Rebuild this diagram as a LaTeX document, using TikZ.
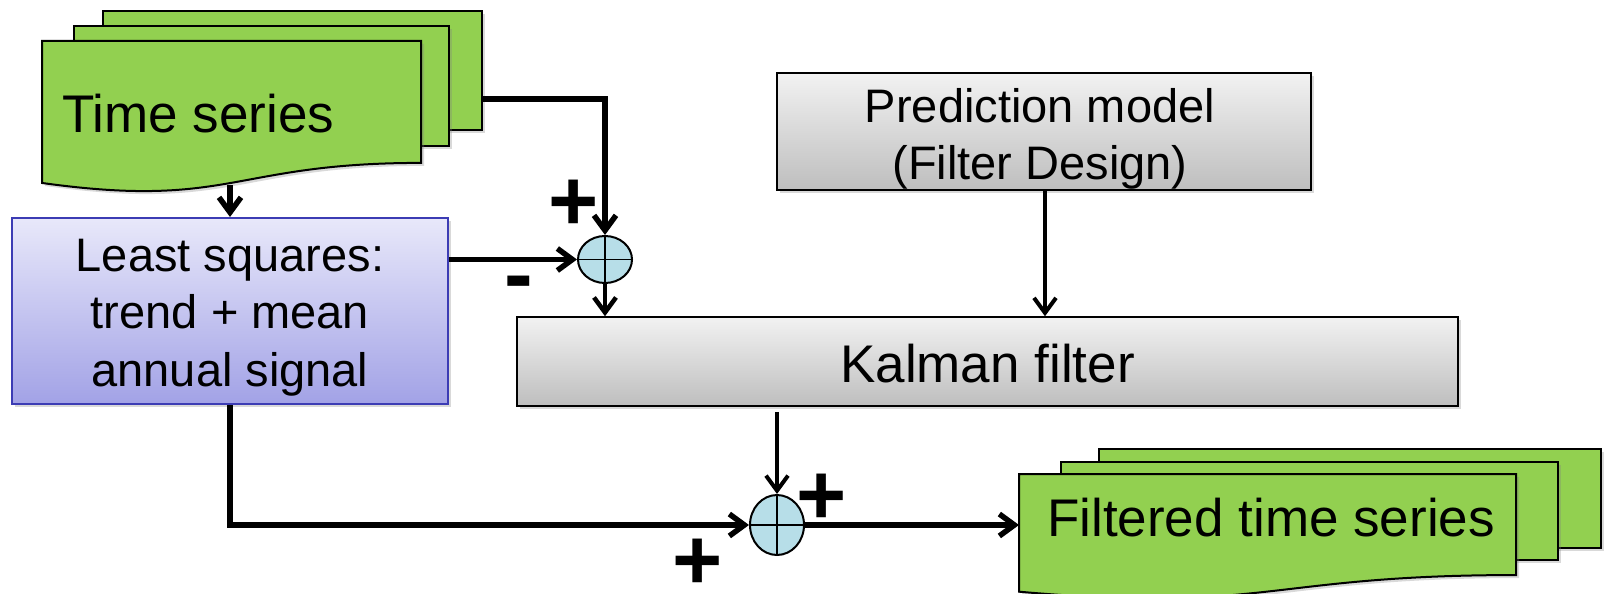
\documentclass[tikz,border=0pt]{standalone}
\usepackage{fontspec}
\setmainfont{Liberation Sans}
\usetikzlibrary{arrows.meta,shapes.geometric,shadows,calc}
\definecolor{pgreen}{HTML}{92D050}
\definecolor{gtop}{HTML}{F2F2F2}
\definecolor{gbot}{HTML}{BEBEBE}
\definecolor{lstop}{HTML}{E8E8FA}
\definecolor{lsbot}{HTML}{A2A2E6}
\definecolor{lsborder}{HTML}{3C3CB4}
\definecolor{sumfill}{HTML}{B7DEE8}
\newcommand\docpage[4]{% left, top, right, height
  \pgfmathsetmacro\dR{#2+0.802*#4}%
  \pgfmathsetmacro\dL{#2+0.934*#4}%
  \pgfmathsetmacro\dC{#2+1.1075*#4}%
  \pgfmathsetmacro\dM{(#1+#3)/2}%
  \filldraw[docst] (#1,#2) -- (#3,#2) -- (#3,\dR) .. controls (\dM,\dR) and (\dM,\dC) .. (#1,\dL) -- cycle;}
\begin{document}
\begin{tikzpicture}[x=1pt,y=-1pt,
  shd/.style={drop shadow={shadow xshift=3pt,shadow yshift=-3pt,opacity=0.3}},
  docst/.style={fill=pgreen,draw=black,line width=2pt,shd},
  graybox/.style={rectangle,draw=black,line width=1.5pt,top color=gtop,bottom color=gbot,inner sep=0pt,shd},
  lsbox/.style={rectangle,draw=lsborder,line width=2pt,top color=lstop,bottom color=lsbot,inner sep=0pt,shd},
  sumc/.style={ellipse,draw=black,line width=2pt,fill=sumfill,inner sep=0pt},
  cross/.style={line width=1.5pt},
  tip/.style={-{Straight Barb[length=15pt,width=22pt]}},
  conn/.style={line width=5.5pt,tip},
  connm/.style={line width=4.5pt,tip},
  connt/.style={line width=4pt,tip},
  big/.style={inner sep=0pt,font=\fontsize{53}{62}\selectfont},
  mid/.style={inner sep=0pt,font=\fontsize{47}{55}\selectfont},
  sign/.style={inner sep=0pt,font=\fontsize{86}{90}\selectfont\bfseries},
]
\useasboundingbox (0,0) rectangle (1606,594);

% Time series stack
\filldraw[docst] (103,11) rectangle (482,130);
\filldraw[docst] (74,26) rectangle (449,146);
\docpage{42}{41}{421}{152}
\node[big,anchor=base west] (tstxt) at (62,132) {Time series};
\coordinate (tsout) at (482,99);
\coordinate (tsbot) at (230,185);

% Filtered time series stack
\filldraw[docst] (1099,449) rectangle (1601,548);
\filldraw[docst] (1061,462) rectangle (1558,560);
\docpage{1019}{474}{1516}{126}
\node[big,anchor=base west] (fttxt) at (1047,536) {Filtered time series};
\coordinate (ftin) at (1019,525);

% Least squares box
\node[lsbox,minimum width=436pt,minimum height=186pt] (ls) at (230,311) {};
\node[mid,anchor=base] (ls1) at (230,271) {Least squares:};
\node[mid,anchor=base] (ls2) at (230,328.5) {trend + mean};
\node[mid,anchor=base] (ls3) at (230,386) {annual signal};

% Prediction model box
\node[graybox,minimum width=534pt,minimum height=117pt] (pred) at (1044,131.5) {};
\node[mid,anchor=base] (pr1) at (1040,122) {Prediction model};
\node[mid,anchor=base] (pr2) at (1040,179) {(Filter Design)};

% Kalman filter box
\node[graybox,minimum width=941pt,minimum height=89pt] (kal) at (987.5,361.5) {};
\node[big,anchor=base] (kaltxt) at (987.5,382) {Kalman filter};

% summing junctions
\node[sumc,minimum width=54pt,minimum height=47pt] (s1) at (605,259.5) {};
\draw[cross] (s1.north) -- (s1.south) (s1.west) -- (s1.east);
\node[sumc,minimum width=54pt,minimum height=60pt] (s2) at (777,525) {};
\draw[cross] (s2.north) -- (s2.south) (s2.west) -- (s2.east);

% connectors
\draw[conn] (tsout) -| (s1.north);
\draw[conn] (tsbot) -- (ls.north);
\draw[conn] (s1.west -| ls.east) -- (s1.west);
\draw[connm] (s1.south) -- (s1.south |- kal.north);
\draw[connt] (pred.south -| 1045,0) -- (kal.north -| 1045,0);
\draw[connt,shorten <=5pt] (s2.north |- kal.south) -- (s2.north);
\draw[conn] (ls.south) |- (s2.west);
\draw[conn] (s2.east) -- (ftin);

% signs
\node[sign,anchor=base] (p1) at (574,230) {+};
\node[sign,anchor=base] (m1) at (519,303) {-};
\node[sign,anchor=base] (p2) at (822,524) {+};
\node[sign,anchor=base] (p3) at (698,589) {+};
\end{tikzpicture}
\end{document}
